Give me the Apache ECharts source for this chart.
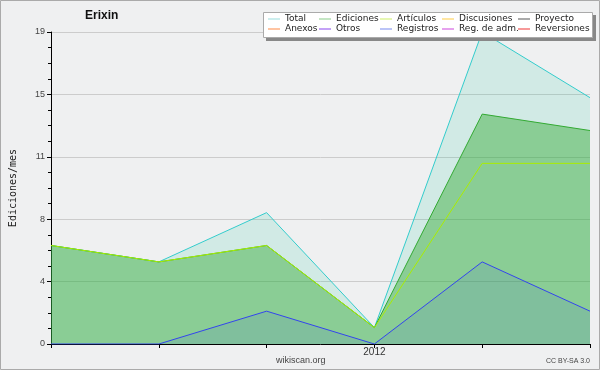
<!DOCTYPE html>
<html>
<head>
<meta charset="utf-8">
<script src="https://cdn.jsdelivr.net/npm/echarts@6/dist/echarts.min.js"></script>
<style>html,body{margin:0;padding:0;background:#eff0f1;}#c{width:600px;height:370px;}</style>
</head>
<body>
<div id="c"></div>
<script>
var months = ['2011-10','2011-11','2011-12','2012-01','2012-02','2012-03'];
var total = [6, 5, 8, 1, 19, 15];
var ediciones = [6, 5, 6, 1, 14, 13];
var articulos = [6, 5, 6, 1, 11, 11];
var registros = [0, 0, 2, 0, 5, 2];
var yTicks = [0, 4, 8, 11, 15, 19];
var legendCols = [['Total','Anexos'],['Ediciones','Otros'],['Artículos','Registros'],['Discusiones','Reg. de adm.'],['Proyecto','Reversiones']];
var legendColors = {'Total':'#99dddd','Anexos':'#ff8844','Ediciones':'#88cc88','Otros':'#8844ee','Artículos':'#ccee66','Registros':'#7788ee','Discusiones':'#ffcc44','Reg. de adm.':'#cc44dd','Proyecto':'#555555','Reversiones':'#ee3333'};
var legendLefts = [268, 319, 380, 442, 518];

var chart = echarts.init(document.getElementById('c'));
var legends = legendCols.map(function(col, i){
  return {
    orient: 'vertical', left: legendLefts[i], top: 14, padding: 0, itemGap: 0,
    icon: 'rect', itemWidth: 12, itemHeight: 1, z: 10,
    textStyle: {fontFamily: 'DejaVu Sans', fontSize: 9, color: '#222', lineHeight: 10, padding: [0,0,0,0]},
    data: col.map(function(n){ return {name: n, itemStyle: {color: legendColors[n], borderWidth: 0}}; })
  };
});
function lineSeries(name, data, color, area){
  var s = {name: name, type: 'line', data: data, symbol: 'none', silent: true,
    lineStyle: {color: color, width: 1}, itemStyle: {color: color}};
  if (area) s.areaStyle = {color: area, opacity: 1};
  return s;
}
var empty = ['Discusiones','Proyecto','Anexos','Otros','Reg. de adm.','Reversiones'];
var series = [
  lineSeries('Total', total, '#33cccc', 'rgba(40,200,160,0.15)'),
  lineSeries('Ediciones', ediciones, '#33aa33', 'rgba(51,170,51,0.45)'),
  lineSeries('Artículos', articulos, '#aaee00', null),
  lineSeries('Registros', registros, '#3344ee', 'rgba(51,68,238,0.1)')
];
empty.forEach(function(n){ series.push(lineSeries(n, [], legendColors[n], null)); });

chart.setOption({
  animation: false,
  backgroundColor: '#eff0f1',
  title: {text: 'Erixin', left: 85, top: 10, padding: 0,
    textStyle: {fontFamily: 'Liberation Sans', fontSize: 12, fontWeight: 'bold', color: '#111'}},
  legend: legends,
  grid: {left: 47, right: 10, top: 32, bottom: 26},
  xAxis: {
    type: 'category', data: months, boundaryGap: false,
    axisLine: {lineStyle: {color: '#000', width: 1}},
    axisTick: {show: true, interval: 0, length: 4, lineStyle: {color: '#000'}},
    axisLabel: {interval: 0, margin: 3, color: '#333', fontFamily: 'Liberation Sans', fontSize: 10,
      formatter: function(v){ return v.slice(5) === '01' ? v.slice(0,4) : ''; }},
    splitLine: {show: false}
  },
  yAxis: {
    type: 'value', min: 0, max: 19, interval: 3.8,
    name: 'Ediciones/mes', nameLocation: 'middle', nameGap: 33,
    nameTextStyle: {fontFamily: 'DejaVu Sans Mono', fontSize: 10, color: '#222'},
    axisLine: {show: true, lineStyle: {color: '#000', width: 1}},
    axisTick: {show: true, length: 4, lineStyle: {color: '#000'}},
    minorTick: {show: true, splitNumber: 4, length: 3, lineStyle: {color: '#000'}},
    axisLabel: {margin: 6, color: '#444', fontFamily: 'Liberation Sans', fontSize: 9,
      formatter: function(v){ var r = Math.round(v); return yTicks.indexOf(r) >= 0 ? String(r) : ''; }},
    splitLine: {show: true, lineStyle: {color: '#cccccc', width: 1}}
  },
  graphic: [
    {type: 'rect', shape: {x: 0.5, y: 0.5, width: 599, height: 369}, style: {fill: 'none', stroke: '#aaaaaa', lineWidth: 1}, z: 0, silent: true},
    {type: 'rect', shape: {x: 266, y: 15, width: 330, height: 26}, style: {fill: '#888888'}, z: 5, silent: true},
    {type: 'rect', shape: {x: 263.5, y: 12.5, width: 329, height: 25}, style: {fill: '#ffffff', stroke: '#aaaaaa', lineWidth: 1}, z: 6, silent: true},
    {type: 'text', left: 276, top: 356, style: {text: 'wikiscan.org', font: '9px "Liberation Sans"', fill: '#444'}, z: 6, silent: true},
    {type: 'text', right: 10, top: 358, style: {text: 'CC BY-SA 3.0', font: '7px "Liberation Sans"', fill: '#444'}, z: 6, silent: true}
  ],
  series: series
});
</script>
</body>
</html>
